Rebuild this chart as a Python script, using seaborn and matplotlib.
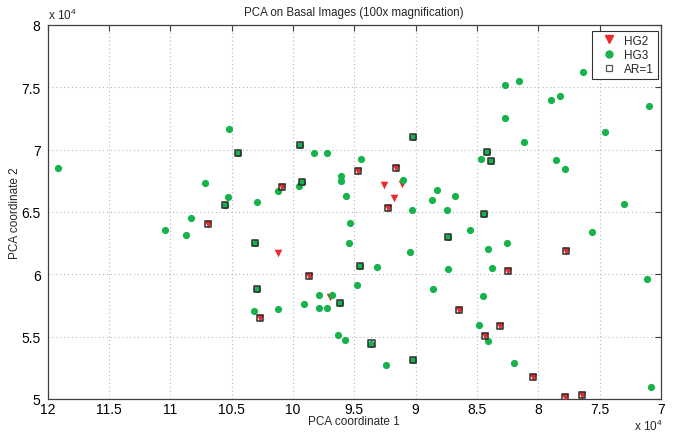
import matplotlib
matplotlib.use("Agg")
import matplotlib.pyplot as plt
from matplotlib.lines import Line2D
from matplotlib.ticker import FuncFormatter
import numpy as np
import pandas as pd
import seaborn as sns

# PCA scores of basal images (raw units)
hg2_pc1 = [100900, 94700, 92550, 91570, 91140, 91760, 92230, 106880, 101220, 98650,
           102670, 96960, 77710, 82440, 86460, 83150, 84310, 80400, 77850, 76400]
hg2_pc2 = [67040, 68320, 67150, 68530, 67280, 66130, 65300, 64000, 61730, 59860,
           56530, 58160, 61890, 60290, 57120, 55870, 55070, 51790, 50180, 50350]
hg2_ar1 = [1, 1, 0, 1, 0, 0, 1, 1, 0, 1, 1, 0, 1, 1, 1, 1, 1, 1, 1, 1]

hg3_pc1 = [119140, 107200, 105200, 104440, 105280, 105500, 102940, 101200, 99380, 98240,
           97230, 99540, 99220, 96060, 96060, 94430, 95680, 91000, 90250, 90190,
           88660, 88230, 87410, 86820, 84670, 84210, 83880, 82740, 81540, 82740,
           81130, 78990, 78250, 76380, 71000, 74550, 78550, 77810, 72980, 84400,
           95350, 87390, 85540, 75590, 108270, 110440, 108730, 103070, 102940, 103160,
           101220, 99100, 97830, 97910, 97200, 96850, 96140, 96330, 95730, 95410,
           94540, 93180, 94780, 93590, 92420, 90190, 90490, 88580, 87390, 82520,
           84130, 83740, 71160, 84500, 84860, 84100, 81950, 70800]
hg3_pc2 = [68540, 67360, 71660, 69760, 66240, 65580, 65840, 66660, 70370, 69760,
           69730, 67070, 67440, 67860, 67520, 69220, 66300, 67540, 65150, 71040,
           65970, 66800, 65150, 66300, 69250, 69810, 69120, 75200, 75470, 72530,
           70640, 74000, 74300, 76240, 73500, 71420, 69200, 68450, 65630, 64850,
           64080, 63020, 63520, 63360, 64530, 63550, 63150, 62540, 58800, 57040,
           57200, 57600, 58340, 57280, 57300, 58320, 57730, 55170, 54750, 62510,
           60700, 60590, 59170, 54450, 52720, 53120, 61780, 58850, 60450, 62540,
           62050, 60480, 59630, 58300, 55950, 54640, 52860, 50960]
hg3_ar1 = [0, 0, 0, 1, 0, 1, 0, 0, 1, 0,
           0, 0, 1, 0, 0, 0, 0, 0, 0, 1,
           0, 0, 0, 0, 0, 1, 1, 0, 0, 0,
           0, 0, 0, 0, 0, 0, 0, 0, 0, 1,
           0, 1, 0, 0, 0, 0, 0, 1, 1, 0,
           0, 0, 0, 0, 0, 0, 1, 0, 0, 0,
           1, 0, 0, 1, 0, 1, 0, 0, 0, 0,
           0, 0, 0, 0, 0, 0, 0, 0]

x_ticks = [12, 11.5, 11, 10.5, 10, 9.5, 9, 8.5, 8, 7.5, 7]
y_ticks = [5, 5.5, 6, 6.5, 7, 7.5, 8]
scale = 1e4

df = pd.concat([
    pd.DataFrame({"pc1": hg2_pc1, "pc2": hg2_pc2, "ar": hg2_ar1, "grade": "HG2"}),
    pd.DataFrame({"pc1": hg3_pc1, "pc2": hg3_pc2, "ar": hg3_ar1, "grade": "HG3"}),
], ignore_index=True)

sns.set_style("white")
plt.rcParams["font.family"] = ["Liberation Sans", "DejaVu Sans"]
plt.rcParams["mathtext.fontset"] = "custom"
plt.rcParams["mathtext.rm"] = "Liberation Sans"

RED = "#ec2a2c"
GREEN = "#16b34c"
EDGE = "#2e2e2e"

fig = plt.figure(figsize=(6.73, 4.35), dpi=100)
ax = fig.add_axes([0.0706, 0.0805, 0.9114, 0.8598])

sns.scatterplot(data=df[df.grade == "HG2"], x="pc1", y="pc2", marker="v",
                color=RED, s=30, linewidth=0, ax=ax, zorder=3)
sns.scatterplot(data=df[df.grade == "HG3"], x="pc1", y="pc2", marker="o",
                color=GREEN, s=27, linewidth=0, ax=ax, zorder=4)
sns.scatterplot(data=df[df.ar == 1], x="pc1", y="pc2", marker="s",
                facecolor="none", edgecolor=EDGE, s=19, linewidth=1.1, ax=ax, zorder=5)

ax.set_xlim(x_ticks[0] * scale, x_ticks[-1] * scale)
ax.set_ylim(y_ticks[0] * scale, y_ticks[-1] * scale)
ax.set_xticks([t * scale for t in x_ticks])
ax.set_yticks([t * scale for t in y_ticks])
fmt = FuncFormatter(lambda v, p: "%g" % (v / scale))
ax.xaxis.set_major_formatter(fmt)
ax.yaxis.set_major_formatter(fmt)

ax.grid(True, linestyle=(0, (1, 2.5)), color="#b8b8b8", linewidth=0.8)
ax.set_axisbelow(True)
for sp in ax.spines.values():
    sp.set_visible(True)
    sp.set_color("#404040")
    sp.set_linewidth(0.9)
ax.tick_params(direction="in", length=4, width=0.8, color="#404040",
               top=True, right=True, labelsize=10, labelcolor="black")
ax.tick_params(axis="x", pad=2.5)
ax.tick_params(axis="y", pad=5)

ax.set_xlabel("PCA coordinate 1", fontsize=8.5, labelpad=-1)
ax.set_ylabel("PCA coordinate 2", fontsize=8.5, labelpad=0)
ax.set_title("PCA on Basal Images (100x magnification)", fontsize=8.3, pad=7)

ax.text(0.0, 1.008, r"x 10$^4$", transform=ax.transAxes, fontsize=8.5,
        ha="left", va="bottom")
ax.text(1.003, -0.083, r"x 10$^4$", transform=ax.transAxes, fontsize=8.5,
        ha="right", va="baseline")

handles = [
    Line2D([], [], marker="v", linestyle="none", color=RED, markersize=5.5),
    Line2D([], [], marker="o", linestyle="none", color=GREEN, markersize=5),
    Line2D([], [], marker="s", linestyle="none", markerfacecolor="white",
           markeredgecolor="#555555", markersize=4, markeredgewidth=0.9),
]
leg = ax.legend(handles, ["HG2", "HG3", "AR=1"], loc="upper right",
                bbox_to_anchor=(1 - 3 / 613, 1 - 6 / 374), borderaxespad=0,
                fontsize=8.5, frameon=True, fancybox=False,
                handletextpad=0.15, handlelength=2.3, labelspacing=0.2,
                borderpad=0.3)
leg.get_frame().set_edgecolor("black")
leg.get_frame().set_linewidth(0.8)

fig.savefig("out.png", dpi=100)
